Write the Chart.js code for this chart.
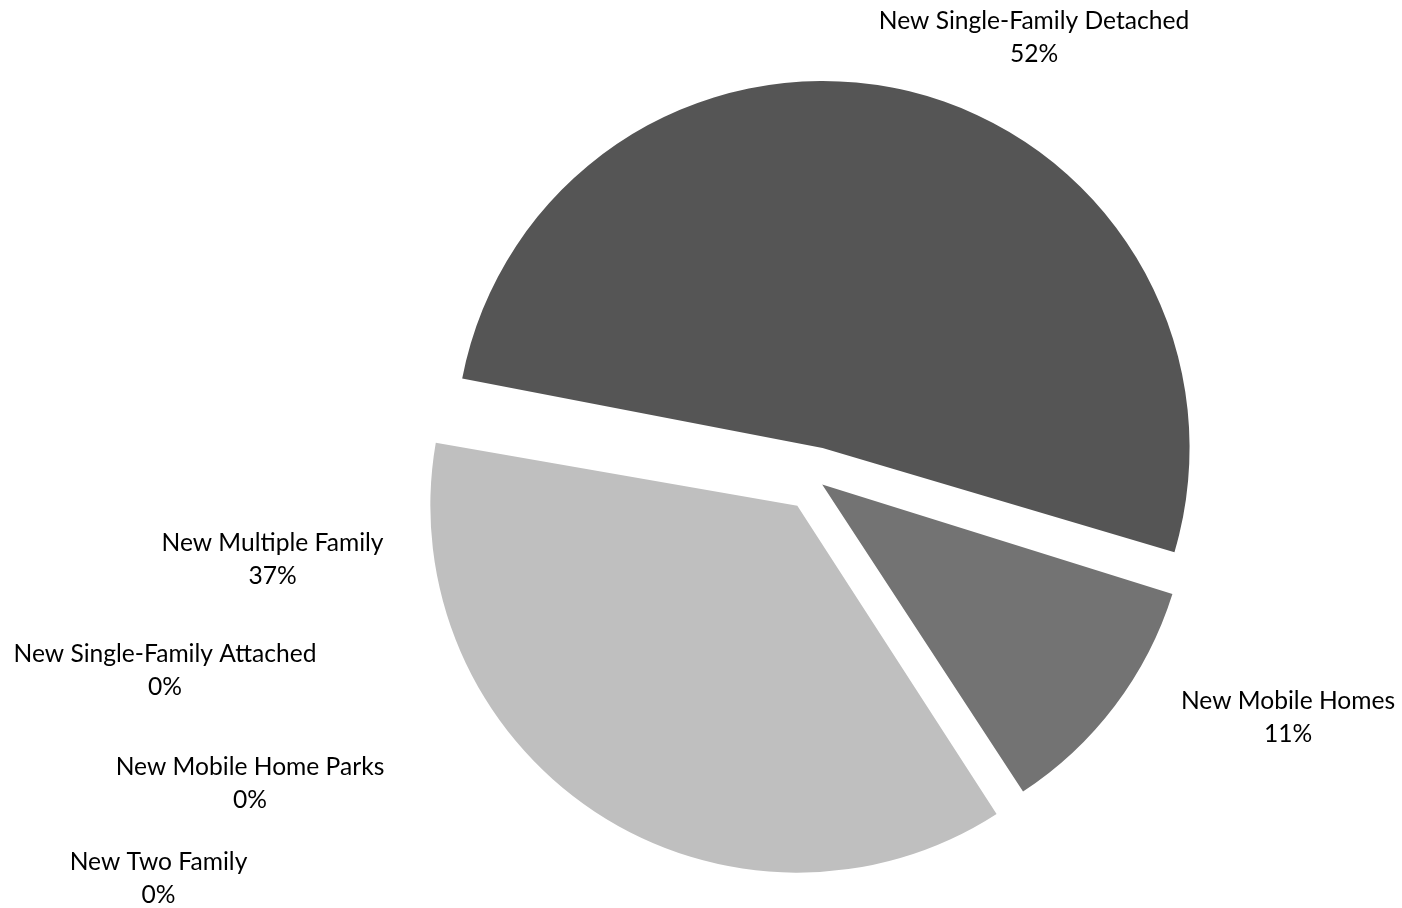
<!DOCTYPE html>
<html>
<head>
<meta charset="utf-8">
<title>New Housing Units by Type</title>
<script src="https://cdn.jsdelivr.net/npm/chart.js@4.4.1/dist/chart.umd.min.js"></script>
<style>
  html, body { margin: 0; padding: 0; background: #ffffff; }
  #wrap { width: 1402px; height: 908px; }
</style>
</head>
<body>
<div id="wrap"><canvas id="pie" width="1402" height="908"></canvas></div>
<script>
// Housing types and their share of new units (percent)
const categories = [
  'New Single-Family Detached',
  'New Mobile Homes',
  'New Multiple Family',
  'New Single-Family Attached',
  'New Mobile Home Parks',
  'New Two Family'
];
const shares = [52, 11, 37, 0, 0, 0];

// Styling
const sliceColors = ['#555555', '#737373', '#bfbfbf', '#a5a5a5', '#7f7f7f', '#d9d9d9'];
const explodePx = [32, 9, 32, 0, 0, 0];      // how far each slice is pulled out
const pieRadius = 367;
const labelFont = '24.6px Lato, "Liberation Sans", sans-serif';
const labelLineGap = 33;
// label block centres, relative to the pie centre
const labelAnchors = [
  [219, -441.5],
  [473, 239],
  [-542.5, 81],
  [-650, 192],
  [-565, 305],
  [-656.5, 400]
];

const total = shares.reduce((a, b) => a + b, 0);

// Arc elements grow their radius when offset; keep every slice on the same radius.
const equalRadius = {
  id: 'equalRadius',
  beforeDatasetsDraw(chart) {
    chart.getDatasetMeta(0).data.forEach(arc => {
      const o = (arc.options.offset || 0) / 4;
      const fix = 1 - Math.sin(Math.min(Math.PI, arc.circumference || 0));
      arc.outerRadius = pieRadius - o * fix;
    });
  }
};

// Category name and percentage outside the pie
const sliceLabels = {
  id: 'sliceLabels',
  afterDatasetsDraw(chart) {
    const ctx = chart.ctx;
    const arcs = chart.getDatasetMeta(0).data;
    ctx.save();
    ctx.font = labelFont;
    ctx.fillStyle = '#000000';
    ctx.textAlign = 'center';
    ctx.textBaseline = 'middle';
    arcs.forEach((arc, i) => {
      const cx = arc.x + labelAnchors[i][0];
      const cy = arc.y + labelAnchors[i][1];
      const pct = Math.round(shares[i] / total * 100) + '%';
      ctx.fillText(categories[i], cx, cy - labelLineGap / 2);
      ctx.fillText(pct, cx, cy + labelLineGap / 2);
    });
    ctx.restore();
  }
};

new Chart(document.getElementById('pie'), {
  type: 'pie',
  data: {
    labels: categories,
    datasets: [{
      data: shares,
      backgroundColor: sliceColors,
      borderWidth: 0,
      offset: explodePx.map(p => p * 4)
    }]
  },
  options: {
    responsive: false,
    animation: false,
    rotation: 280.1,
    radius: pieRadius,
    layout: { padding: { left: 228, right: 0, top: 50, bottom: 0 } },
    plugins: {
      legend: { display: false },
      tooltip: { enabled: false }
    }
  },
  plugins: [equalRadius, sliceLabels]
});
</script>
</body>
</html>
